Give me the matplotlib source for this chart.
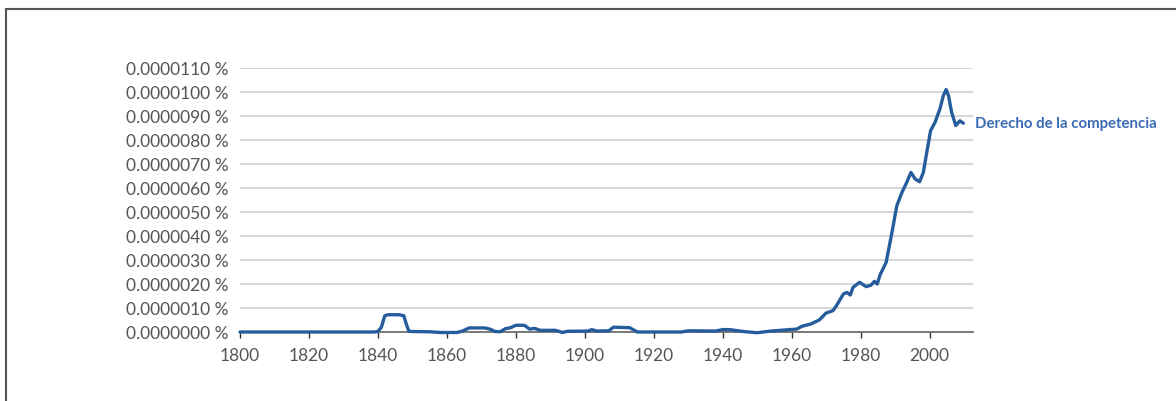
import numpy as np
import matplotlib.pyplot as plt
from matplotlib.lines import Line2D

# valores en unidades de 0.000001 %
anios = [1800, 1839, 1840, 1841, 1842, 1843, 1846, 1847.5, 1848.3, 1849, 1850, 1855,
         1858, 1863, 1864.5, 1866.5, 1871, 1872.5, 1874, 1875.5, 1877, 1878.5, 1880,
         1882.5, 1884, 1885.5, 1887, 1891.5, 1893.5, 1895, 1901, 1902, 1903.5, 1907,
         1908.3, 1913, 1914, 1915.3, 1928, 1930, 1938, 1940, 1942, 1946, 1950, 1954,
         1959.5, 1961.5, 1963, 1965.5, 1968, 1970, 1972, 1973, 1975, 1976, 1977,
         1977.8, 1979.7, 1981.6, 1983, 1984, 1984.8, 1985.7, 1987.4, 1989.1, 1990.5,
         1992, 1993.4, 1994.6, 1995.8, 1997.1, 1998.2, 1999.2, 2000.3, 2001.6, 2003,
         2004, 2004.8, 2005.5, 2006.4, 2007.6, 2008.8, 2009.8]
valores = [0, 0, 0.02, 0.2, 0.68, 0.72, 0.72, 0.68, 0.3, 0.03, 0.02, 0.01,
           -0.02, -0.02, 0.04, 0.17, 0.17, 0.12, 0.02, 0.01, 0.14, 0.18, 0.28,
           0.28, 0.12, 0.15, 0.07, 0.07, -0.02, 0.03, 0.04, 0.1, 0.04, 0.05,
           0.2, 0.18, 0.1, 0.0, 0.0, 0.05, 0.04, 0.1, 0.1, 0.02, -0.03, 0.04,
           0.1, 0.12, 0.24, 0.33, 0.5, 0.79, 0.89, 1.1, 1.58, 1.65, 1.54,
           1.86, 2.07, 1.89, 1.95, 2.11, 2.0, 2.4, 2.9, 4.15, 5.26,
           5.82, 6.24, 6.65, 6.38, 6.26, 6.65, 7.49, 8.39, 8.74, 9.29,
           9.85, 10.1, 9.85, 9.15, 8.6, 8.8, 8.7]
etiqueta = "Derecho de la competencia"
xticks = list(range(1800, 2001, 20))
yticks = list(range(0, 12))

plt.rcParams['font.family'] = ['Lato', 'DejaVu Sans']

fig = plt.figure(figsize=(11.76, 4.02), dpi=100)
ax = fig.add_axes([240/1176, 1-333/402, 733/1176, 264/402])

ax.plot(anios, valores, c='#255d9c', lw=2.4, clip_on=False, solid_capstyle='round', zorder=3)
ax.annotate(etiqueta, xy=(anios[-1], valores[-1]), xytext=(8.5, 0), textcoords='offset points',
            color='#3b6bb5', fontsize=10.8, fontweight='bold', va='center', ha='left')

ax.set_xlim(1800, 2012.6)
ax.set_ylim(0, 11)
ax.set_xticks(xticks)
ax.set_yticks(yticks)
ax.set_yticklabels([f"{v*1e-6:.7f} %" for v in yticks])
ax.grid(axis='y', color='#d4d4d4', lw=1.3)
ax.set_axisbelow(True)
for s in ['top', 'right', 'left']:
    ax.spines[s].set_visible(False)
ax.spines['bottom'].set_color('#707070')
ax.spines['bottom'].set_linewidth(1.3)
ax.spines['bottom'].set_zorder(2)
ax.tick_params(axis='y', length=0, pad=8, labelsize=12.5, labelcolor='#555555')
ax.tick_params(axis='x', length=4, width=1, color='#333333', pad=7, labelsize=12.5, labelcolor='#555555')

# marco de la figura
fig.add_artist(Line2D([6/1176, 1], [1-10/402, 1-10/402], color='#555555', lw=1.5))
fig.add_artist(Line2D([6/1176, 6/1176], [0, 1-10/402], color='#555555', lw=1.5))

plt.savefig("out.png", dpi=100)
plt.close()
